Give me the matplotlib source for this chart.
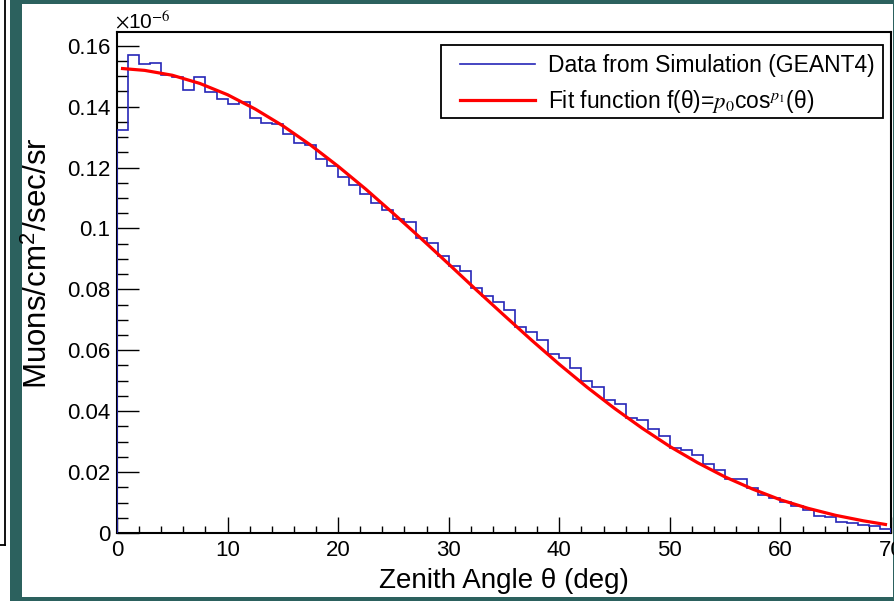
import numpy as np
import matplotlib
matplotlib.use("Agg")
import matplotlib.pyplot as plt
from matplotlib.patches import Rectangle
from matplotlib.lines import Line2D
from matplotlib.ticker import MultipleLocator, FuncFormatter

plt.rcParams['font.family'] = ['Liberation Sans', 'DejaVu Sans']
plt.rcParams['mathtext.fontset'] = 'stix'

# histogram, 1 deg bins from 0 to 70 (units of 1e-6 muons/cm2/sec/sr)
bin_edges = np.arange(0, 71, 1)
sim_counts = [
    0.1324, 0.1568, 0.1540, 0.1543, 0.1505, 0.1496, 0.1456, 0.1496, 0.1447, 0.1426,
    0.1410, 0.1415, 0.1363, 0.1347, 0.1344, 0.1310, 0.1281, 0.1273, 0.1229, 0.1204,
    0.1168, 0.1141, 0.1113, 0.1083, 0.1061, 0.1032, 0.1022, 0.0967, 0.0951, 0.0910,
    0.0877, 0.0860, 0.0806, 0.0779, 0.0757, 0.0732, 0.0675, 0.0661, 0.0633, 0.0587,
    0.0574, 0.0541, 0.0499, 0.0481, 0.0437, 0.0422, 0.0379, 0.0372, 0.0343, 0.0318,
    0.0280, 0.0274, 0.0256, 0.0227, 0.0206, 0.0177, 0.0177, 0.0149, 0.0125, 0.0114,
    0.0101, 0.0089, 0.0076, 0.0057, 0.0054, 0.0037, 0.0032, 0.0026, 0.0023, 0.0013,
]

# fit curve
fit_theta = [0.5, 2.5, 5, 7.5, 10, 12.5, 15, 17.5, 20, 22.5, 25, 27.5, 30, 32.5, 35,
             37.5, 40, 42.5, 45, 47.5, 50, 52.5, 55, 57.5, 60, 62.5, 65, 67.5, 69.5]
fit_vals = [0.1525, 0.1519, 0.1503, 0.1476, 0.1439, 0.1392, 0.1337, 0.1274, 0.1204,
            0.1129, 0.1049, 0.0967, 0.0883, 0.0798, 0.0715, 0.0633, 0.0554, 0.0479,
            0.0409, 0.0344, 0.0284, 0.0231, 0.0184, 0.0144, 0.0109, 0.0081, 0.0058,
            0.0040, 0.0028]

W, H = 895, 601
fig = plt.figure(figsize=(W / 100, H / 100), dpi=100)
fig.patch.set_facecolor('white')

def px(x0, y0, w, h):
    # pixel box (top-left origin) -> figure fraction (x, y, w, h)
    return (x0 / W, 1 - (y0 + h) / H, w / W, h / H)

teal = '#2c615e'
x0, y0, w, h = px(10, 0, W - 10, H)
fig.add_artist(Rectangle((x0, y0), w, h, transform=fig.transFigure,
                         facecolor=teal, edgecolor='none', zorder=0))
x0, y0, w, h = px(22, 4, 871, 593)
fig.add_artist(Rectangle((x0, y0), w, h, transform=fig.transFigure,
                         facecolor='white', edgecolor='none', zorder=0))
fig.add_artist(Line2D([5.5 / W, 5.5 / W], [1, 1 - 545 / H], transform=fig.transFigure,
                      color='black', lw=1.3))
fig.add_artist(Line2D([0, 5.5 / W], [1 - 545 / H, 1 - 545 / H], transform=fig.transFigure,
                      color='black', lw=1.3))

ax = fig.add_axes([117 / W, 68 / H, 774 / W, 501 / H])
ax.stairs(sim_counts, bin_edges, color='#2626b8', lw=1.2, zorder=3,
          label='Data from Simulation (GEANT4)')
ax.plot(fit_theta, fit_vals, color='red', lw=2.3, zorder=4,
        label=r'Fit function f(θ)=$p_{\mathit{0}}$cos$^{p_{\mathit{1}}}$(θ)')

ax.set_xlim(0, 70)
ax.set_ylim(0, 0.1645)
for s in ax.spines.values():
    s.set_linewidth(1.5)

ax.xaxis.set_major_locator(MultipleLocator(10))
ax.xaxis.set_minor_locator(MultipleLocator(2))
ax.yaxis.set_major_locator(MultipleLocator(0.02))
ax.yaxis.set_minor_locator(MultipleLocator(0.005))
ax.yaxis.set_major_formatter(FuncFormatter(lambda v, p: '%g' % round(v, 4)))
ax.tick_params(axis='x', which='major', direction='in', length=11.5, width=1.0,
               labelsize=16, pad=5)
ax.tick_params(axis='x', which='minor', direction='in', length=5, width=1.0)
ax.tick_params(axis='y', which='major', direction='in', length=15.5, width=1.0,
               labelsize=16, pad=5)
ax.tick_params(axis='y', which='minor', direction='in', length=8, width=1.0)

ax.set_xlabel('Zenith Angle θ (deg)', fontsize=20, labelpad=5)
ax.set_ylabel(r'Muons/cm$^{\mathregular{2}}$/sec/sr', fontsize=22.5)
ax.yaxis.set_label_coords(-0.081, 0.539)

fig.text(115 / W, 1 - 28 / H, r'$\times$10$^{-6}$', fontsize=15, va='baseline', ha='left')

# legend frame drawn separately so the entries can sit inset like the original
ax.add_patch(Rectangle(((441 - 117) / 774, (533 - 118) / 501), 442 / 774, 73 / 501,
                       transform=ax.transAxes, facecolor='white', edgecolor='black',
                       lw=1.3, zorder=5))
leg = ax.legend(loc='upper left', bbox_to_anchor=((460 - 117) / 774, (533 - 54) / 501),
                fontsize=16.5, frameon=False, handlelength=3.27, handletextpad=0.57,
                labelspacing=0.48, borderpad=0, borderaxespad=0)
leg.set_zorder(6)

fig.savefig('out.png', dpi=100, facecolor=fig.get_facecolor())
